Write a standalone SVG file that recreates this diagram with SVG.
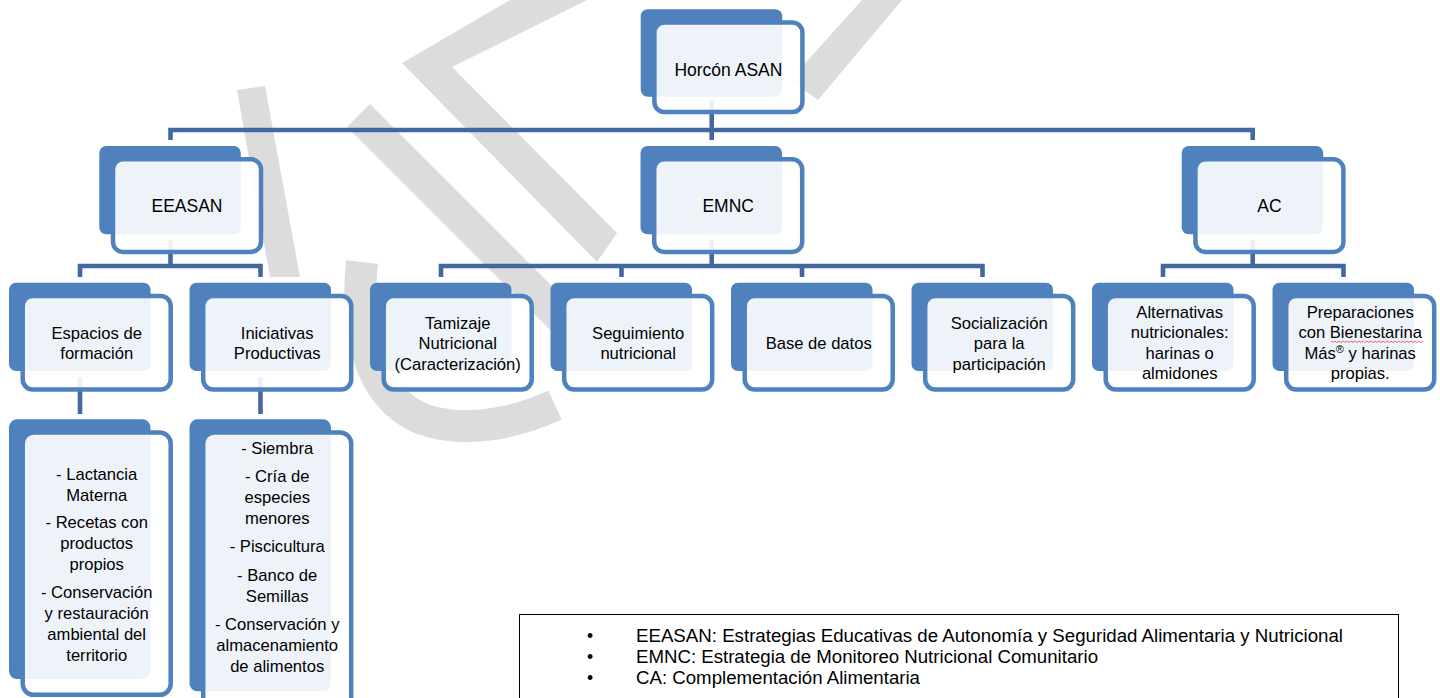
<svg xmlns="http://www.w3.org/2000/svg" width="1440" height="698" viewBox="0 0 1440 698">
<style>
.back{fill:#4f81bd}
.front{fill:#ffffff;fill-opacity:0.9;stroke:#4f81bd;stroke-width:4.5}
.conn{fill:none;stroke:#41699f;stroke-width:4.6;stroke-linejoin:miter;stroke-linecap:butt}
.wm{fill:#dcdcdc}
.wms{fill:none;stroke:#dcdcdc;stroke-width:32}
.t1{font-family:"Liberation Sans",Arial,sans-serif;font-size:17.5px;fill:#000;text-anchor:middle}
.t2{font-family:"Liberation Sans",Arial,sans-serif;font-size:16.6px;fill:#000;text-anchor:middle}
.lg{font-family:"Liberation Sans",Arial,sans-serif;font-size:17.5px;fill:#000}
</style>
<rect x="0" y="0" width="1440" height="698" fill="#ffffff"/>
<g id="watermark">
<polygon class="wm" points="510,0 587,0 452,67 617,233 597,262 402,63"/>
<polygon class="wm" points="370,104 613,347 590,370 347,127"/>
<polygon class="wm" points="237,90 265,86 300,277 270,277"/>
<polygon class="wm" points="862,0 902,0 818,100 790,80"/>
<path class="wms" d="M362,262 C355,330 368,395 420,418 C455,432 505,428 555,405"/>
</g>
<g id="connectors">
<path class="conn" d="M711.7,100 V140"/>
<path class="conn" d="M170.5,140 V130 H1252.7 V140"/>
<path class="conn" d="M170.5,240 V266"/>
<path class="conn" d="M80,277 V266 H260.5 V277"/>
<path class="conn" d="M711.7,240 V266"/>
<path class="conn" d="M441,277 V266 H982.5 V277"/>
<path class="conn" d="M621.5,266 V277"/>
<path class="conn" d="M802,266 V277"/>
<path class="conn" d="M1252.7,240 V266"/>
<path class="conn" d="M1163,277 V266 H1343.5 V277"/>
<path class="conn" d="M80,377 V414"/>
<path class="conn" d="M260.5,377 V414"/>
</g>
<g id="n-horcon">
<rect class="back" x="640.7" y="9.3" width="141.5" height="87.5" rx="7"/>
<rect class="front" x="654.4" y="22.5" width="148" height="89.5" rx="10"/>
<text class="t1" x="728.4" y="76">Horcón ASAN</text>
</g>
<g id="n-eeasan">
<rect class="back" x="99.3" y="146" width="141.5" height="88.3" rx="7"/>
<rect class="front" x="113" y="159.3" width="148" height="92.6" rx="10"/>
<text class="t1" x="187" y="211.7">EEASAN</text>
</g>
<g id="n-emnc">
<rect class="back" x="640.5" y="146" width="141.5" height="88.3" rx="7"/>
<rect class="front" x="654.2" y="159.3" width="148" height="92.6" rx="10"/>
<text class="t1" x="728.2" y="211.7">EMNC</text>
</g>
<g id="n-ac">
<rect class="back" x="1181.7" y="146" width="141.5" height="88.3" rx="7"/>
<rect class="front" x="1195.4" y="159.3" width="148" height="92.6" rx="10"/>
<text class="t1" x="1269.4" y="211.7">AC</text>
</g>
<g id="n-espacios">
<rect class="back" x="9" y="282.7" width="141.5" height="88.3" rx="7"/>
<rect class="front" x="22.7" y="295.9" width="148" height="93.6" rx="10"/>
<text class="t2" x="96.7" y="338.5">Espacios de</text>
<text class="t2" x="96.7" y="359">formación</text>
</g>
<g id="n-iniciativas">
<rect class="back" x="189.5" y="282.7" width="141.5" height="88.3" rx="7"/>
<rect class="front" x="203.2" y="295.9" width="148" height="93.6" rx="10"/>
<text class="t2" x="277.2" y="338.5">Iniciativas</text>
<text class="t2" x="277.2" y="359">Productivas</text>
</g>
<g id="n-tamizaje">
<rect class="back" x="370" y="282.7" width="141.5" height="88.3" rx="7"/>
<rect class="front" x="383.7" y="295.9" width="148" height="93.6" rx="10"/>
<text class="t2" x="457.7" y="328.5">Tamizaje</text>
<text class="t2" x="457.7" y="349">Nutricional</text>
<text class="t2" x="457.7" y="369.5">(Caracterización)</text>
</g>
<g id="n-seguimiento">
<rect class="back" x="550.5" y="282.7" width="141.5" height="88.3" rx="7"/>
<rect class="front" x="564.2" y="295.9" width="148" height="93.6" rx="10"/>
<text class="t2" x="638.2" y="338.5">Seguimiento</text>
<text class="t2" x="638.2" y="359">nutricional</text>
</g>
<g id="n-base">
<rect class="back" x="731" y="282.7" width="141.5" height="88.3" rx="7"/>
<rect class="front" x="744.7" y="295.9" width="148" height="93.6" rx="10"/>
<text class="t2" x="818.7" y="348.5">Base de datos</text>
</g>
<g id="n-socializacion">
<rect class="back" x="911.5" y="282.7" width="141.5" height="88.3" rx="7"/>
<rect class="front" x="925.2" y="295.9" width="148" height="93.6" rx="10"/>
<text class="t2" x="999.2" y="328.5">Socialización</text>
<text class="t2" x="999.2" y="349">para la</text>
<text class="t2" x="999.2" y="369.5">participación</text>
</g>
<g id="n-alternativas">
<rect class="back" x="1092" y="282.7" width="141.5" height="88.3" rx="7"/>
<rect class="front" x="1105.7" y="295.9" width="148" height="93.6" rx="10"/>
<text class="t2" x="1179.7" y="317.5">Alternativas</text>
<text class="t2" x="1179.7" y="338">nutricionales:</text>
<text class="t2" x="1179.7" y="358.5">harinas o</text>
<text class="t2" x="1179.7" y="379">almidones</text>
</g>
<g id="n-preparaciones">
<rect class="back" x="1272.5" y="282.7" width="141.5" height="88.3" rx="7"/>
<rect class="front" x="1286.2" y="295.9" width="148" height="93.6" rx="10"/>
<text class="t2" x="1360.2" y="317.5">Preparaciones</text>
<text class="t2" x="1360.2" y="338">con Bienestarina</text>
<path d="M1331,341 l2,1.5 l2,-1.5 l2,1.5 l2,-1.5 l2,1.5 l2,-1.5 l2,1.5 l2,-1.5 l2,1.5 l2,-1.5 l2,1.5 l2,-1.5 l2,1.5 l2,-1.5 l2,1.5 l2,-1.5 l2,1.5 l2,-1.5 l2,1.5 l2,-1.5 l2,1.5 l2,-1.5 l2,1.5 l2,-1.5 l2,1.5 l2,-1.5 l2,1.5 l2,-1.5 l2,1.5 l2,-1.5 l2,1.5 l2,-1.5 l2,1.5 l2,-1.5 l2,1.5 l2,-1.5 l2,1.5 l2,-1.5 l2,1.5 l2,-1.5 l2,1.5 l2,-1.5 l2,1.5 l2,-1.5 l2,1.5 l2,-1.5" fill="none" stroke="#e0474c" stroke-width="0.8"/>
<text class="t2" x="1360.2" y="358.5">Más<tspan font-size="11" dy="-6">®</tspan><tspan dy="6"> y harinas</tspan></text>
<text class="t2" x="1360.2" y="379">propias.</text>
</g>
<g id="n-lactancia">
<rect class="back" x="9" y="419.3" width="141.5" height="259.7" rx="8"/>
<rect class="front" x="22.7" y="432.5" width="148" height="262.3" rx="11"/>
<text class="t2" x="96.7" y="480">- Lactancia</text>
<text class="t2" x="96.7" y="501">Materna</text>
<text class="t2" x="96.7" y="528.3">- Recetas con</text>
<text class="t2" x="96.7" y="549.3">productos</text>
<text class="t2" x="96.7" y="570.3">propios</text>
<text class="t2" x="96.7" y="597.6">- Conservación</text>
<text class="t2" x="96.7" y="618.6">y restauración</text>
<text class="t2" x="96.7" y="639.6">ambiental del</text>
<text class="t2" x="96.7" y="660.6">territorio</text>
</g>
<g id="n-siembra">
<rect class="back" x="189.5" y="419.3" width="141.5" height="272" rx="8"/>
<rect class="front" x="203.2" y="432.5" width="148" height="300" rx="11"/>
<text class="t2" x="277.2" y="454">- Siembra</text>
<text class="t2" x="277.2" y="482">- Cría de</text>
<text class="t2" x="277.2" y="503">especies</text>
<text class="t2" x="277.2" y="524">menores</text>
<text class="t2" x="277.2" y="552">- Piscicultura</text>
<text class="t2" x="277.2" y="580.5">- Banco de</text>
<text class="t2" x="277.2" y="601.5">Semillas</text>
<text class="t2" x="277.2" y="629.5">- Conservación y</text>
<text class="t2" x="277.2" y="650.5">almacenamiento</text>
<text class="t2" x="277.2" y="671.5">de alimentos</text>
</g>
<g id="legend">
<rect x="519.5" y="614.5" width="879" height="120" fill="#ffffff" stroke="#000000" stroke-width="1"/>
<text class="lg" x="587" y="642">•</text>
<text class="lg" x="587" y="663">•</text>
<text class="lg" x="587" y="684">•</text>
<text class="lg" x="636" y="642" textLength="707" lengthAdjust="spacingAndGlyphs">EEASAN: Estrategias Educativas de Autonomía y Seguridad Alimentaria y Nutricional</text>
<text class="lg" x="636" y="663" textLength="462" lengthAdjust="spacingAndGlyphs">EMNC: Estrategia de Monitoreo Nutricional Comunitario</text>
<text class="lg" x="636" y="684" textLength="284" lengthAdjust="spacingAndGlyphs">CA: Complementación Alimentaria</text>
</g>
</svg>
